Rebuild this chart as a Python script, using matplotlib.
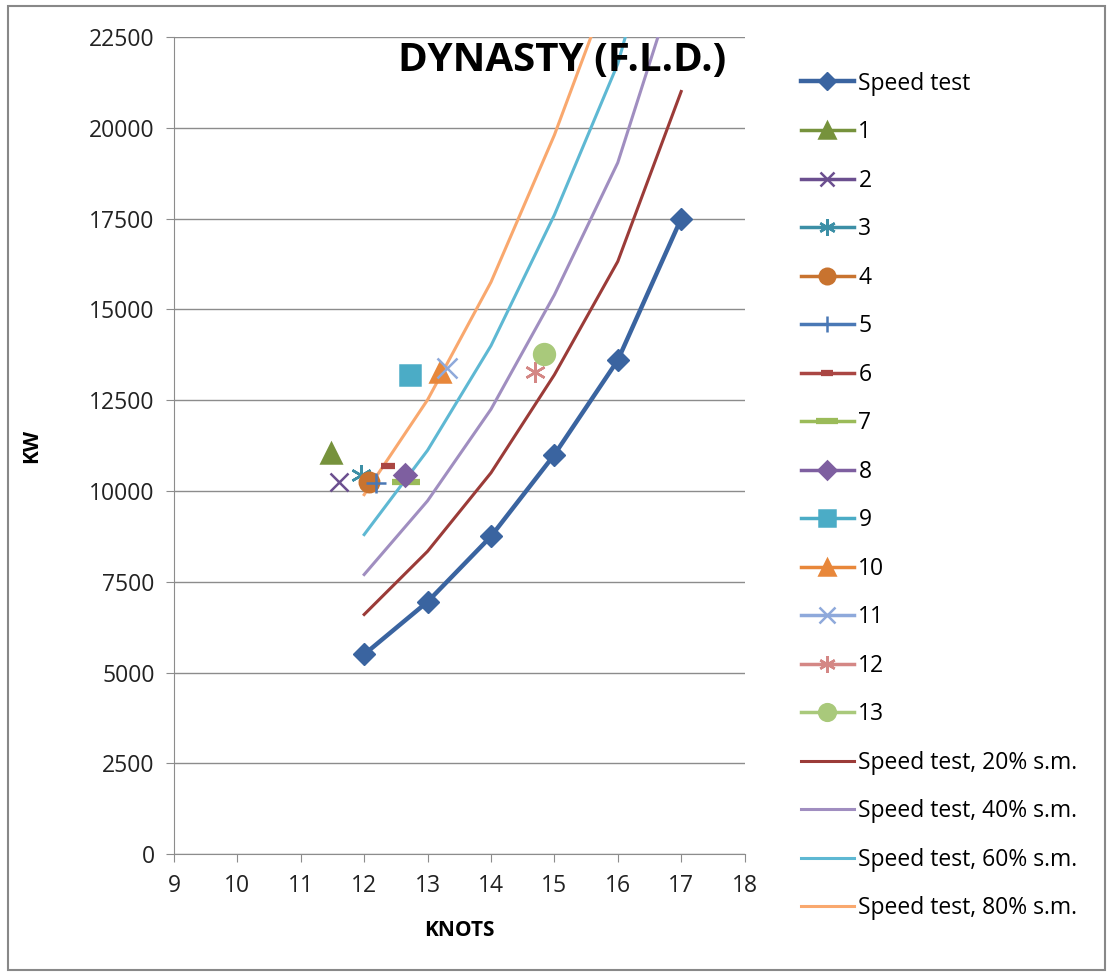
import matplotlib
matplotlib.use("Agg")
import matplotlib.pyplot as plt
from matplotlib.patches import Rectangle

# speed trial curve and the sea-margin variants
knots = [12, 13, 14, 15, 16, 17]
speed_test = [5500, 6950, 8750, 11000, 13600, 17500]
sm_20 = [6600, 8340, 10500, 13200, 16320, 21000]
sm_40 = [7700, 9730, 12250, 15400, 19040, 24500]
sm_60 = [8800, 11120, 14000, 17600, 21760, 28000]
sm_80 = [9900, 12510, 15750, 19800, 24480, 31500]

# single observed points, labelled 1..13
obs_labels = ["1", "2", "3", "4", "5", "6", "7", "8", "9", "10", "11", "12", "13"]
obs_knots = [11.47, 11.6, 11.95, 12.08, 12.18, 12.37, 12.66, 12.64, 12.72, 13.2, 13.3, 14.69, 14.83]
obs_kw = [11050, 10250, 10450, 10250, 10220, 10680, 10250, 10430, 13200, 13270, 13380, 13280, 13770]

ASTERISK = (6, 2, 0)
obs_colors = ["#76923C", "#6B4F8F", "#3C8FA6", "#C8732F", "#4A78B5", "#AA4643",
              "#9BBB59", "#7E5FA0", "#4BACC6", "#E8873A", "#8EA9DB", "#D48785", "#A9C97B"]
obs_markers = ["^", "x", ASTERISK, "o", "+", "_", "_", "D", "s", "^", "x", ASTERISK, "o"]
obs_sizes = [14, 13, 15, 14, 15, 10, 20, 11, 14, 14, 14, 15, 15]

sm_names = ["Speed test, 20% s.m.", "Speed test, 40% s.m.", "Speed test, 60% s.m.", "Speed test, 80% s.m."]
sm_values = [sm_20, sm_40, sm_60, sm_80]
sm_colors = ["#9B3B38", "#A08EC0", "#5EB8D3", "#F9A86E"]

plt.rcParams["font.family"] = ["Open Sans", "DejaVu Sans"]

fig = plt.figure(figsize=(11.08, 9.74), dpi=100)
fig.patches.append(Rectangle((0.007, 0.004), 0.99, 0.99, transform=fig.transFigure,
                             fill=False, edgecolor="#888888", linewidth=1.5))
ax = fig.add_axes([0.157, 0.123, 0.515, 0.839])

ax.plot(knots, speed_test, color="#3A64A0", lw=3.2, marker="D", markersize=11, label="Speed test", zorder=5)

for lab, x, y, c, m, s in zip(obs_labels, obs_knots, obs_kw, obs_colors, obs_markers, obs_sizes):
    mew = 1.8
    if m == "_":
        mew = 4.5
    ax.plot([x], [y], color=c, lw=2.5, marker=m, markersize=s, markeredgewidth=mew, label=lab, zorder=6)

for name, vals, c in zip(sm_names, sm_values, sm_colors):
    ax.plot(knots, vals, color=c, lw=2.2, label=name, zorder=4)

ax.set_xlim(9, 18)
ax.set_ylim(0, 22500)
ax.set_xticks(range(9, 19))
ax.set_yticks(range(0, 22501, 2500))
ax.yaxis.grid(True, color="#8c8c8c", lw=1.0)
ax.set_axisbelow(True)
for side in ("top", "right"):
    ax.spines[side].set_visible(False)
for side in ("left", "bottom"):
    ax.spines[side].set_color("#8c8c8c")
ax.tick_params(axis="both", colors="#8c8c8c", labelcolor="#222222", labelsize=16.5, length=6, direction="out")
ax.tick_params(axis="y", pad=8)
ax.tick_params(axis="x", pad=8)

ax.set_xlabel("KNOTS", fontsize=15, fontweight="bold", labelpad=16)
ax.set_ylabel("KW", fontsize=15, fontweight="bold", labelpad=34)

fig.text(0.507, 0.938, "DYNASTY (F.L.D.)", fontsize=29, fontweight="bold", ha="center", va="center")

ax.legend(loc="upper left", bbox_to_anchor=(1.083, 0.969), frameon=False, fontsize=16.5,
          handlelength=2.3, handletextpad=0.2, labelspacing=1.07, borderaxespad=0, markerscale=0.8)

fig.savefig("out.png", dpi=100)
